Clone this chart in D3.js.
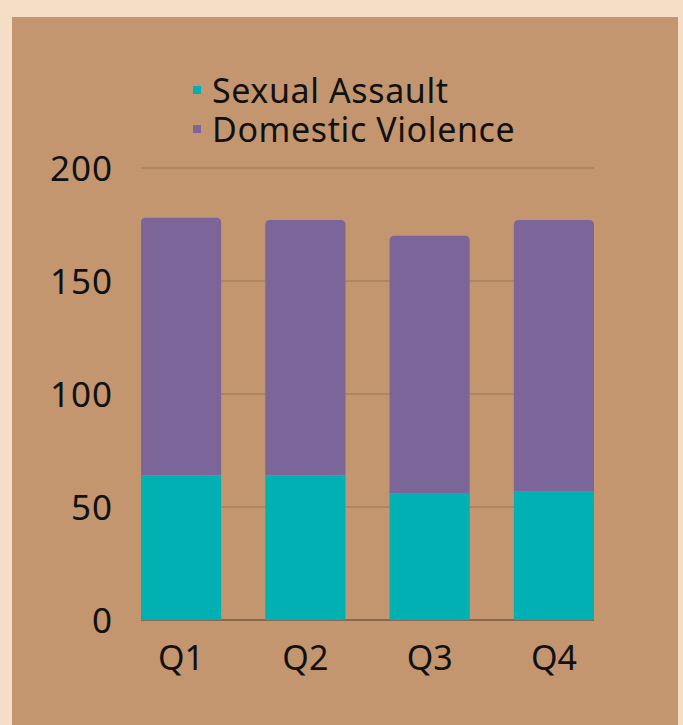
<!DOCTYPE html>
<html>
<head>
<meta charset="utf-8">
<script src="https://cdn.jsdelivr.net/npm/d3@7"></script>
<style>
  body { margin: 0; background: #f4dec6; }
  svg { display: block; }
  text { font-family: "Noto Sans", sans-serif; fill: #111; }
</style>
</head>
<body>
<svg id="chart"></svg>
<script>
var quarters = ["Q1", "Q2", "Q3", "Q4"];
var sexualAssault = [64, 64, 56, 57];
var domesticViolence = [114, 113, 114, 120];
var yTicks = [0, 50, 100, 150, 200];
var seriesNames = ["Sexual Assault", "Domestic Violence"];
var seriesColors = ["#00b0b2", "#7c6598"];

var svg = d3.select("#chart")
    .attr("width", 683)
    .attr("height", 725);

// brown panel
svg.append("rect")
    .attr("x", 12).attr("y", 17)
    .attr("width", 666).attr("height", 720)
    .attr("fill", "#c4966f");

var x = d3.scaleBand().domain(quarters).range([141, 594]).paddingInner(0.355).paddingOuter(0),
    y = d3.scaleLinear().domain([0, 200]).range([620, 168]);

// gridlines
svg.append("g")
    .selectAll("line")
    .data(yTicks.filter(function(d) { return d > 0; }))
    .enter().append("line")
    .attr("x1", 141).attr("x2", 594)
    .attr("y1", function(d) { return y(d); })
    .attr("y2", function(d) { return y(d); })
    .attr("stroke", "#9c7454")
    .attr("stroke-width", 1);

// y labels
svg.append("g")
    .selectAll("text")
    .data(yTicks)
    .enter().append("text")
    .attr("x", 113)
    .attr("y", function(d) { return y(d); })
    .attr("dy", "0.36em")
    .attr("text-anchor", "end")
    .style("font-size", "35px")
    .style("letter-spacing", "1px")
    .text(function(d) { return d; });

// baseline
svg.append("line")
    .attr("x1", 141).attr("x2", 594)
    .attr("y1", y(0)).attr("y2", y(0))
    .attr("stroke", "#4e3c2e")
    .attr("stroke-width", 1.2);

var data = quarters.map(function(q, i) {
  return { q: q, sa: sexualAssault[i], dv: domesticViolence[i] };
});

var r = 5;
function topRounded(x0, y0, w, h) {
  return "M" + x0 + "," + (y0 + h) +
    "V" + (y0 + r) +
    "Q" + x0 + "," + y0 + " " + (x0 + r) + "," + y0 +
    "H" + (x0 + w - r) +
    "Q" + (x0 + w) + "," + y0 + " " + (x0 + w) + "," + (y0 + r) +
    "V" + (y0 + h) + "Z";
}

// domestic violence (stacked top)
svg.append("g")
    .selectAll("path")
    .data(data)
    .enter().append("path")
    .attr("fill", seriesColors[1])
    .attr("d", function(d) {
      var top = y(d.sa + d.dv);
      return topRounded(x(d.q), top, x.bandwidth(), y(d.sa) - top);
    });

// sexual assault
svg.append("g")
    .selectAll("rect")
    .data(data)
    .enter().append("rect")
    .attr("fill", seriesColors[0])
    .attr("x", function(d) { return x(d.q); })
    .attr("y", function(d) { return y(d.sa); })
    .attr("width", x.bandwidth())
    .attr("height", function(d) { return y(0) - y(d.sa); });

// x labels
svg.append("g")
    .selectAll("text")
    .data(quarters)
    .enter().append("text")
    .attr("x", function(d) { return x(d) + x.bandwidth() / 2; })
    .attr("y", 670)
    .attr("text-anchor", "middle")
    .style("font-size", "34px")
    .text(function(d) { return d; });

// legend
var legend = svg.append("g")
    .selectAll("g")
    .data(seriesNames)
    .enter().append("g")
    .attr("transform", function(d, i) { return "translate(193," + (103 + i * 39) + ")"; });

legend.append("rect")
    .attr("x", 0).attr("y", -17)
    .attr("width", 8).attr("height", 8)
    .attr("fill", function(d, i) { return seriesColors[i]; });

legend.append("text")
    .attr("x", 19)
    .attr("y", 0)
    .style("font-size", "34px")
    .style("letter-spacing", "0.6px")
    .text(function(d) { return d; });
</script>
</body>
</html>
